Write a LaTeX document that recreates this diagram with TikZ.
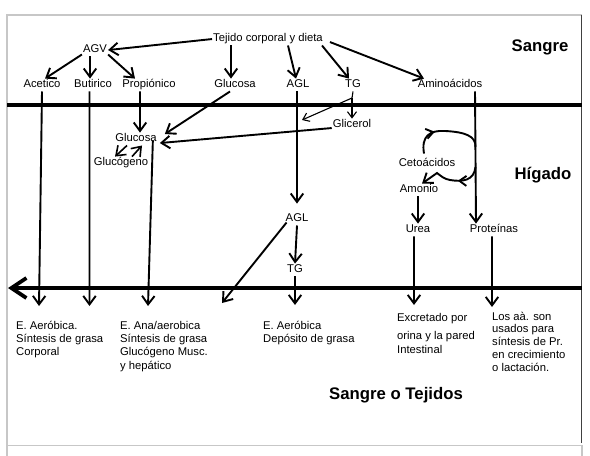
\documentclass[tikz,border=0pt]{standalone}
\usepackage{fontspec}
\setmainfont{Liberation Sans}
\usetikzlibrary{arrows.meta,decorations.markings,calc}
\begin{document}
\begin{tikzpicture}[x=1bp,y=-1bp,
  lbl/.style={font=\fontsize{11.3}{13.5}\selectfont, inner sep=1bp, text height=8.2bp, text depth=2.3bp, anchor=base},
  big/.style={font=\fontsize{16.8}{20}\selectfont\bfseries, inner sep=0pt, anchor=base},
  txt/.style={font=\fontsize{11.3}{13.5}\selectfont, inner sep=0pt, anchor=base west},
  arr/.style={line width=1.9bp, -{Straight Barb[length=8.5bp,width=12.5bp]}},
  tharr/.style={line width=1.1bp, -{Straight Barb[length=6bp,width=9bp]}},
  plain/.style={line width=1.9bp},
  thickline/.style={line width=3.8bp},
  frame/.style={line width=1.2bp, draw=black!22},
  midarrow/.style={postaction={decorate}, decoration={markings, mark=at position #1 with {\arrow{Straight Barb[length=7bp,width=10bp]}}}}
]
\useasboundingbox (0,0) rectangle (590,456);
% frame
\draw[frame] (7,456) -- (7,15) -- (582,15);
\draw[frame] (7,445.5) -- (582,445.5) -- (582,456);
\draw[line width=1.3bp, draw=black!75] (581.6,15) -- (581.6,443);

% membranes
\coordinate (m1l) at (7,105);
\coordinate (m1r) at (582,105);
\coordinate (m2l) at (8,288);
\coordinate (m2r) at (582,288);
\draw[thickline] (m1l) -- (m1r);
\draw[thickline, -{Straight Barb[length=15bp,width=20bp]}] (m2r) -- (m2l);

% region titles
\node[big] (sangre) at (540,52) {Sangre};
\node[big] (higado) at (543,180) {Hígado};
\node[big] (tejidos) at (396,399) {Sangre o Tejidos};

% blood labels
\node[lbl] (tej) at (268,42) {Tejido corporal y dieta};
\node[lbl] (agv) at (95,53) {AGV};
\node[lbl] (acet) at (42,88) {Acetico};
\node[lbl] (but) at (93,88) {Butirico};
\node[lbl] (prop) at (149,88) {Propiónico};
\node[lbl] (glc) at (235,88) {Glucosa};
\node[lbl] (aglb) at (298,88) {AGL};
\node[lbl] (tgb) at (353,88) {TG};
\node[lbl] (amino) at (450,88) {Aminoácidos};

% liver labels
\node[lbl] (glic) at (352,128) {Glicerol};
\node[lbl] (glcl) at (136,142) {Glucosa};
\node[lbl] (glgn) at (121,166) {Glucógeno};
\node[lbl] (ceto) at (427,167) {Cetoácidos};
\node[lbl] (amon) at (419,193) {Amonio};
\node[lbl] (urea) at (418,233) {Urea};
\node[lbl] (prot) at (494,233) {Proteínas};
\node[lbl] (agll) at (297,222) {AGL};
\node[lbl] (tgl) at (295,273) {TG};

% tissue texts
\node[txt] (t1) at (16,329) {\begin{tabular}[t]{@{}l@{}}E. Aeróbica.\\ Síntesis de grasa\\ Corporal\end{tabular}};
\node[txt] (t2) at (120,329) {\begin{tabular}[t]{@{}l@{}}E. Ana/aerobica\\ Síntesis de grasa\\ Glucógeno Musc.\\ y hepático\end{tabular}};
\node[txt] (t3) at (263,329) {\begin{tabular}[t]{@{}l@{}}E. Aeróbica\\ Depósito de grasa\end{tabular}};
\node[txt] (t4) at (397,321) {\begin{tabular}[t]{@{}l@{}}Excretado por\\[5.5bp] orina y la pared\\ Intestinal\end{tabular}};
\node[txt, font=\fontsize{11.3}{12.9}\selectfont] (t5) at (492,320) {\begin{tabular}[t]{@{}l@{}}Los aà. son\\ usados para\\ síntesis de Pr.\\ en crecimiento\\ o lactación.\end{tabular}};

% free ends on the lower membrane
\coordinate (a1) at (39,306);
\coordinate (b1) at (89.5,306);
\coordinate (g1) at (148,306);
\coordinate (ag2) at (222,303);
\coordinate (tg1) at (295,305);
\coordinate (u1) at (414,305);
\coordinate (p1) at (492,307);

% blood connectors
\draw[arr] (tej.west) -- (agv.east);
\draw[arr] ([xshift=-4bp]glc.north |- tej.south) -- ([xshift=-4bp]glc.north);
\draw[arr] ([xshift=20bp]tej.south) -- ([xshift=-2bp]aglb.north);
\draw[arr] ([xshift=54bp]tej.south) -- ([xshift=-4bp]tgb.north);
\draw[arr] ([xshift=6bp,yshift=-3bp]tej.east) -- ([xshift=-26bp]amino.north);
\draw[arr] ([yshift=2bp]agv.south west) -- ([xshift=3bp]acet.north);
\draw[arr] ([xshift=-3bp]but.north |- agv.south) -- ([xshift=-3bp]but.north);
\draw[arr] ([yshift=2bp]agv.south east) -- ([xshift=-14bp]prop.north);

% to tissues
\draw[arr] (acet.south) -- (a1);
\draw[arr] ([xshift=-3.5bp]but.south) -- (b1);
\draw[arr] ([xshift=-5bp,yshift=5bp]glcl.south east) -- (g1);

% to liver glucose
\draw[arr] ([xshift=-9bp]prop.south) -- ([xshift=4bp]glcl.north);
\draw[arr] ([xshift=-5bp]glc.south) -- ([xshift=7bp,yshift=5bp]glcl.east);
\draw[arr] ([yshift=-3bp]glic.west) -- ([xshift=2bp,yshift=-4bp]glcl.east);
\draw[arr, line width=1.6bp] ([xshift=-9bp]glcl.south) -- ([xshift=-6bp]glgn.north);
\draw[arr, line width=1.6bp] ([xshift=11bp]glgn.north) -- ([xshift=6bp]glcl.south);

% fats
\draw[arr] ([xshift=-1bp]aglb.south) -- ([yshift=9bp]agll.north);
\coordinate (tgsplit) at (352,98);
\coordinate (tgtip) at (302,120);
\draw[line width=1.1bp] (tgb.south) -- (tgsplit);
\draw[tharr] (tgsplit) -- (glic.north -| tgsplit);
\draw[tharr] (tgsplit) -- (tgtip);
\draw[arr] (agll.south) -- (tgl.north);
\draw[arr] (tgl.south) -- (tg1);
\draw[arr] ([xshift=2bp,yshift=3bp]agll.south west) -- (ag2);

% amino acids
\coordinate (cl1) at (475.5,147);
\coordinate (cl2) at (475.5,167);
\draw[arr] ([xshift=25bp]amino.south) -- ([xshift=-18bp]prot.north);
\draw[plain, midarrow=0.36] ([xshift=-3bp,yshift=4bp]ceto.north) .. controls (421,136) and (430,130) .. (445,131) .. controls (465,132) and (476,136) .. (cl1);
\draw[arr, midarrow=0.38] (cl2) .. controls (474,181) and (462,182) .. (450,180) .. controls (444,179) and (441,176) .. (437,173) -- ([xshift=3bp]amon.north);
\draw[arr] ([xshift=-1bp]amon.south) -- (urea.north);
\draw[arr] ([xshift=-4bp]urea.south) -- (u1);
\draw[arr] ([xshift=-2bp]prot.south) -- (p1);
\end{tikzpicture}
\end{document}
